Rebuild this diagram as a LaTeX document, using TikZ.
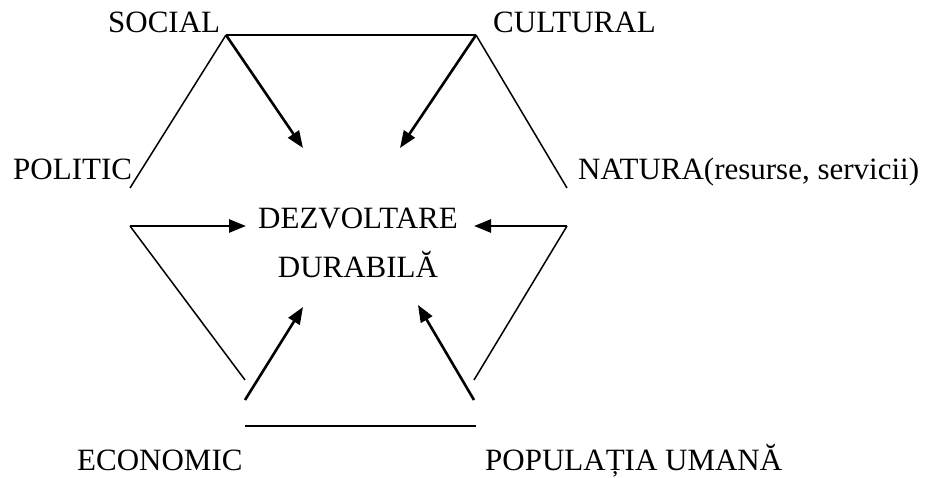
\documentclass[tikz,border=0pt]{standalone}
\usepackage{fontspec}
\setmainfont{Liberation Serif}
\usetikzlibrary{arrows.meta}
\begin{document}
\begin{tikzpicture}[x=1pt,y=-1pt,
  lbl/.style={anchor=base west,inner sep=0pt,font=\fontsize{31}{37}\selectfont},
  edge/.style={line width=1.5pt},
  flow/.style={line width=2.6pt,-{Triangle[length=17pt,width=13pt]}}]
\useasboundingbox (0,0) rectangle (939,478);
% corner points of the frame
\coordinate (s) at (226,35);
\coordinate (c) at (476,35);
\coordinate (pl) at (130,188);
\coordinate (nt) at (567,188);
\coordinate (pl2) at (130,226);
\coordinate (nt2) at (567,226);
\coordinate (el) at (245,380);
\coordinate (er) at (474,380);
\coordinate (b1) at (245,426);
\coordinate (b2) at (476,426);
\coordinate (ea) at (245,400);
\coordinate (pa) at (474,400);
% arrow tips around the centre
\coordinate (t1) at (303,148);
\coordinate (t2) at (400,148);
\coordinate (t3) at (246,226);
\coordinate (t4) at (474,226);
\coordinate (t5) at (303,307);
\coordinate (t6) at (418,305);
% labels
\node[lbl] (social) at (108,33) {SOCIAL};
\node[lbl] (cultural) at (493,33) {CULTURAL};
\node[lbl] (politic) at (13,180) {POLITIC};
\node[lbl] (natura) at (578,180) {NATURA(resurse, servicii)};
\node[lbl] (economic) at (77,470) {ECONOMIC};
\node[lbl] (populatia) at (485,470) {POPULAȚIA UMANĂ};
\node[inner sep=0pt,align=center,font=\fontsize{31}{49}\selectfont,anchor=base]
  (dd) at (358,277) {DEZVOLTARE\\DURABILĂ};
% frame
\draw[edge] (s) -- (c);
\draw[edge] (s) -- (pl);
\draw[edge] (c) -- (nt);
\draw[edge] (pl2) -- (el);
\draw[edge] (nt2) -- (er);
\draw[edge] (b1) -- (b2);
% influences
\draw[flow] (s) -- (t1);
\draw[flow] (c) -- (t2);
\draw[flow] (pl2) -- (t3);
\draw[flow] (nt2) -- (t4);
\draw[flow] (ea) -- (t5);
\draw[flow] (pa) -- (t6);
\end{tikzpicture}
\end{document}
